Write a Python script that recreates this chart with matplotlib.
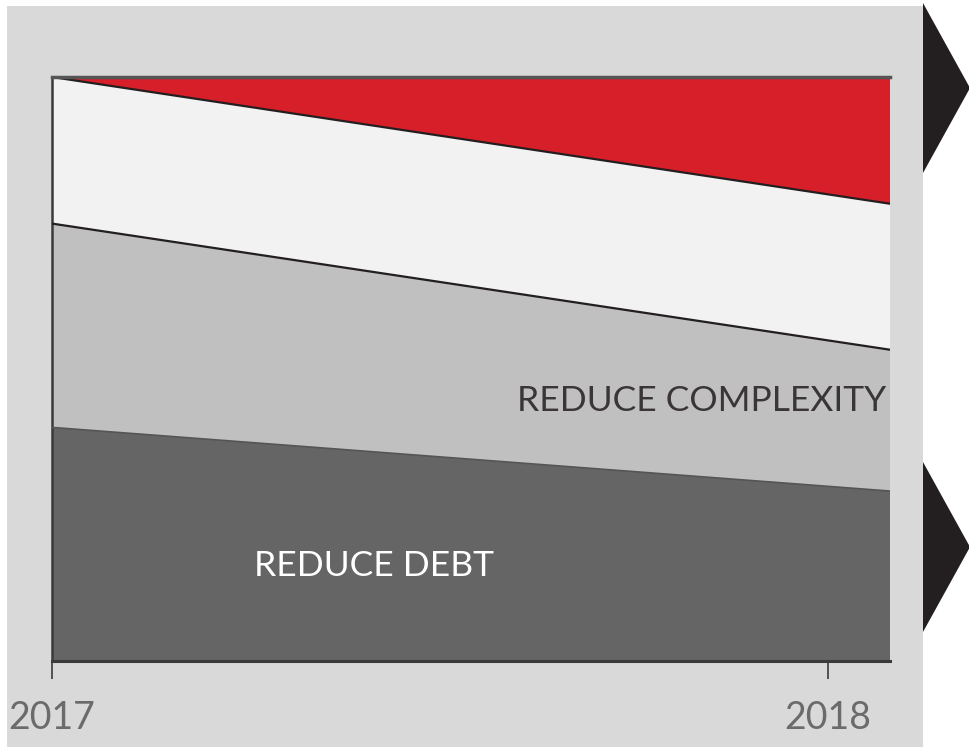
import matplotlib
matplotlib.use("Agg")
import matplotlib.pyplot as plt
from matplotlib.patches import Rectangle, Polygon
import numpy as np

plt.rcParams['font.family'] = ['Lato', 'DejaVu Sans']

# Timeline positions (start year and right edge of the view)
years = [2017.0, 2018.08]
tick_years = [2017, 2018]
tick_labels = ["2017", "2018"]

# Stacked shares (percent of total) at each end of the timeline
debt = [40.0, 29.1]
complexity = [34.9, 24.2]
buffer_band = [25.1, 25.0]
risk = [0.0, 21.7]

W, H = 970, 747
fig = plt.figure(figsize=(W / 100, H / 100), dpi=100)
fig.patch.set_facecolor("white")

# Gray panel behind the chart
fig.patches.append(Rectangle((7 / W, 0), (923 - 7) / W, (H - 6) / H,
                             transform=fig.transFigure, facecolor="#d9d9d9",
                             edgecolor="none", zorder=-5))

# Chevrons on the right
def chevron(y_top, y_bot):
    yt, yb = 1 - y_top / H, 1 - y_bot / H
    return Polygon([(923 / W, yt), (970 / W, (yt + yb) / 2), (923 / W, yb)],
                   closed=True, transform=fig.transFigure,
                   facecolor="#231f20", edgecolor="none", zorder=-4)

fig.patches.append(chevron(3, 173))
fig.patches.append(chevron(462, 632))

left, right, top, bottom = 52, 890, 77, 661
ax = fig.add_axes([left / W, 1 - bottom / H, (right - left) / W, (bottom - top) / H])
ax.set_zorder(5)
ax.set_facecolor("none")

ax.stackplot(years, debt, complexity, buffer_band, risk,
             colors=["#656565", "#c0c0c0", "#f2f2f2", "#d71f29"],
             edgecolor="none", zorder=2)

# Boundary lines between the bands
b1 = np.array(debt)
b2 = b1 + np.array(complexity)
b3 = b2 + np.array(buffer_band)
ax.plot(years, b1, color="#555555", lw=1.2, zorder=3)
ax.plot(years, b2, color="#231f20", lw=1.6, zorder=3)
ax.plot(years, b3, color="#231f20", lw=1.6, zorder=3)

ax.set_xlim(years[0], years[-1])
ax.set_ylim(0, 100)

for side in ["top", "right"]:
    ax.spines[side].set_visible(False)
ax.spines["left"].set_color("#3a3a3a")
ax.spines["left"].set_linewidth(1.8)
ax.spines["bottom"].set_color("#3a3a3a")
ax.spines["bottom"].set_linewidth(2.2)
ax.axhline(100, color="#555555", lw=2.5, zorder=4, clip_on=False)

ax.set_yticks([])
ax.set_xticks(tick_years)
ax.set_xticklabels(tick_labels, fontsize=27, color="#6b6b6b")
ax.tick_params(axis="x", length=13, width=1.2, color="#3a3a3a", pad=15)

ax.text(0.995, 0.445, "REDUCE COMPLEXITY", transform=ax.transAxes,
        ha="right", va="center", fontsize=25.5, color="#3a3537", zorder=5)
ax.text(0.384, 0.162, "REDUCE DEBT", transform=ax.transAxes,
        ha="center", va="center", fontsize=25.5, color="white", zorder=5)

fig.savefig("out.png", dpi=100, facecolor=fig.get_facecolor())
